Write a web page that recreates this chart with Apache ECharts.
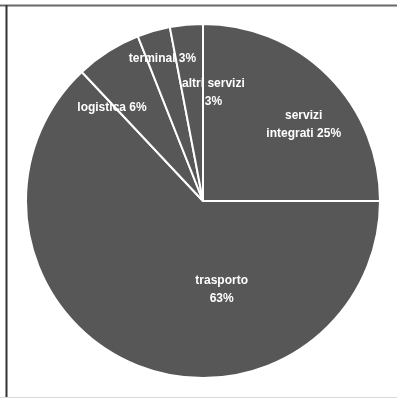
<!DOCTYPE html>
<html>
<head>
<meta charset="utf-8">
<style>
  html, body { margin: 0; padding: 0; background: #ffffff; }
  #chart { width: 397px; height: 398px; }
</style>
<script src="https://cdn.jsdelivr.net/npm/echarts@6/dist/echarts.min.js"></script>
</head>
<body>
<div id="chart"></div>
<script>
// Sector shares, clockwise from twelve o'clock
const categories = ['servizi integrati', 'trasporto', 'logistica', 'terminal', 'altri servizi'];
const shares = [25, 63, 6, 3, 3];
// Label text layout (line breaks) for each sector
const labelTexts = ['servizi\nintegrati {v}%', 'trasporto\n{v}%', 'logistica {v}%', 'terminal {v}%', 'altri servizi\n{v}%'];
// Nudges from the default inside label anchor, in pixels
const labelOffsets = [[36, -12], [55, 5], [-42, -16], [-15, -54], [19, -17]];

const chart = echarts.init(document.getElementById('chart'), null, { renderer: 'canvas' });

const data = categories.map((name, i) => ({
  name: name,
  value: shares[i],
  label: {
    formatter: labelTexts[i].replace('{v}', shares[i]),
    offset: labelOffsets[i]
  }
}));

chart.setOption({
  animation: false,
  backgroundColor: '#ffffff',
  graphic: [
    { type: 'line', shape: { x1: 0, y1: 5.5, x2: 397, y2: 5.5 }, style: { stroke: '#6a6a6a', lineWidth: 2 } },
    { type: 'line', shape: { x1: 6.5, y1: 5, x2: 6.5, y2: 398 }, style: { stroke: '#333333', lineWidth: 2 } },
    { type: 'line', shape: { x1: 0, y1: 397.5, x2: 397, y2: 397.5 }, style: { stroke: '#d8d8d8', lineWidth: 1 } }
  ],
  series: [{
    type: 'pie',
    center: [203, 201],
    radius: [0, 177],
    startAngle: 90,
    clockwise: true,
    avoidLabelOverlap: false,
    itemStyle: { color: '#575757', borderColor: '#ffffff', borderWidth: 2 },
    label: {
      show: true,
      position: 'inside',
      color: '#ffffff',
      fontFamily: 'Liberation Sans, Arial, sans-serif',
      fontWeight: 'bold',
      fontSize: 12,
      lineHeight: 18,
      align: 'center'
    },
    labelLine: { show: false },
    emphasis: { disabled: true },
    data: data
  }]
});
</script>
</body>
</html>
